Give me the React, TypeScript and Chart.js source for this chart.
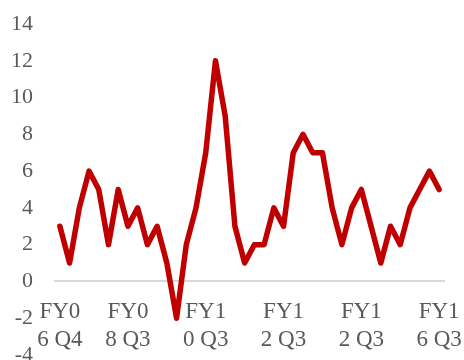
import React, { useEffect, useRef } from "react";
import { Chart, registerables } from "chart.js";

Chart.register(...registerables);

const values: number[] = [
  3, 1, 4, 6, 5, 2, 5, 3, 4, 2,
  3, 1, -2, 2, 4, 7, 12, 9, 3, 1,
  2, 2, 4, 3, 7, 8, 7, 7, 4, 2,
  4, 5, 3, 1, 3, 2, 4, 5, 6, 5,
];

const E = "";
const categories: (string | string[])[] = [
  ["FY0", "6 Q4"], E, E, E, E, E, E,
  ["FY0", "8 Q3"], E, E, E, E, E, E, E,
  ["FY1", "0 Q3"], E, E, E, E, E, E, E,
  ["FY1", "2 Q3"], E, E, E, E, E, E, E,
  ["FY1", "2 Q3"], E, E, E, E, E, E, E,
  ["FY1", "6 Q3"],
];

const yMin = -4;
const yMax = 14;
const yStep = 2;

const FONT = "'Liberation Serif', 'Times New Roman', serif";
const TEXT = "#595959";

export default function App() {
  const ref = useRef<HTMLCanvasElement | null>(null);

  useEffect(() => {
    if (!ref.current) return;
    const chart = new Chart(ref.current, {
      type: "line",
      data: {
        labels: categories,
        datasets: [
          {
            data: values,
            borderColor: "#c00000",
            borderWidth: 5.5,
            pointRadius: 0,
            tension: 0,
            borderJoinStyle: "round",
            borderCapStyle: "round",
            fill: false,
          },
        ],
      },
      options: {
        responsive: false,
        animation: false,
        devicePixelRatio: 1,
        layout: { padding: { left: 0, right: 20, top: 24, bottom: 15 } },
        plugins: { legend: { display: false }, tooltip: { enabled: false } },
        scales: {
          x: {
            type: "category",
            offset: true,
            position: { y: 0 } as any,
            grid: { display: false, drawTicks: false },
            border: { display: true, color: "#d9d9d9", width: 2 },
            ticks: {
              autoSkip: false,
              maxRotation: 0,
              minRotation: 0,
              padding: 17,
              color: TEXT,
              font: { family: FONT, size: 23, lineHeight: 1.2 },
            },
            afterFit: (s: any) => {
              s.paddingLeft = 0;
              s.paddingRight = 0;
            },
          },
          y: {
            min: yMin,
            max: yMax,
            grid: { display: false, drawTicks: false },
            border: { display: false },
            ticks: {
              stepSize: yStep,
              padding: 22,
              color: TEXT,
              font: { family: FONT, size: 22 },
            },
            afterFit: (s: any) => {
              s.width = 55;
              s.paddingTop = 0;
              s.paddingBottom = 0;
            },
          },
        },
      },
    });
    return () => chart.destroy();
  }, []);

  return (
    <div
      style={{
        position: "absolute",
        left: 0,
        top: 0,
        width: 464,
        height: 360,
        overflow: "hidden",
        background: "#fff",
      }}
    >
      <canvas ref={ref} width={464} height={370} style={{ display: "block" }} />
    </div>
  );
}
